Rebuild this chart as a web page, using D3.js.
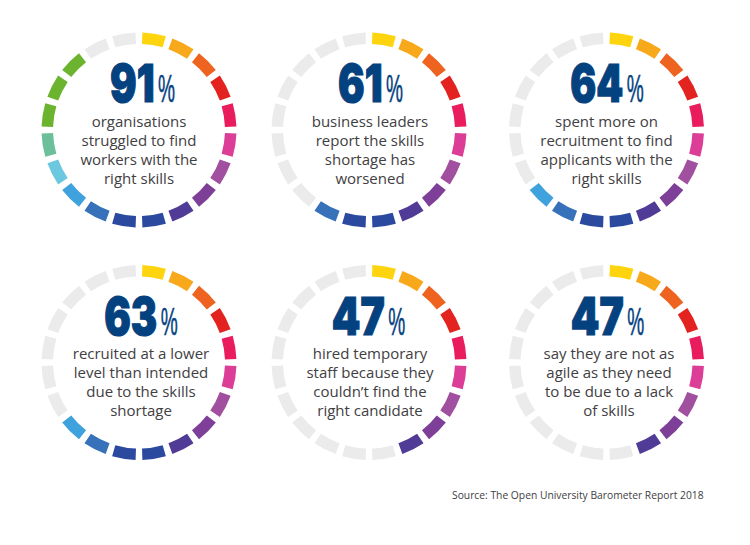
<!DOCTYPE html>
<html>
<head>
<meta charset="utf-8">
<script src="https://cdn.jsdelivr.net/npm/d3@7"></script>
<style>
  html, body { margin: 0; padding: 0; background: #fff; }
  svg { display: block; }
</style>
</head>
<body>
<svg id="chart"></svg>
<script>
const values = [91, 61, 64, 63, 47, 47];
// lit segments counted off the picture, they don't follow the % exactly
const litSegments = [18, 12, 13, 13, 9, 9];
const captions = [
  ["organisations", "struggled to find", "workers with the", "right skills"],
  ["business leaders", "report the skills", "shortage has", "worsened"],
  ["spent more on", "recruitment to find", "applicants with the", "right skills"],
  ["recruited at a lower", "level than intended", "due to the skills", "shortage"],
  ["hired temporary", "staff because they", "couldn\u2019t find the", "right candidate"],
  ["say they are not as", "agile as they need", "to be due to a lack", "of skills"]
];
const segmentColors = ["#fdd40e", "#f8a91b", "#ee6320", "#e2231f", "#e91c5e", "#dc3d96", "#a0509e",
  "#7e3f98", "#503c96", "#2c49a0", "#2c49a0", "#3671ba", "#3fa2dc", "#6cc8de", "#6cbf9b",
  "#6cb42f", "#6cb42f", "#6cb42f", "#ebebeb", "#ebebeb"];
const source = "Source: The Open University Barometer Report 2018";

const width = 750, height = 545;
const offColor = "#ebebeb", numColor = "#04417f";
const segmentCount = 20;
// the text isn't quite centred in the rings in the original
const numNudge = [3.5, 1.5, 0.5, 2, -0.5, 1];
const captionNudge = [0, 1, 0, 2, 1, 2.5];

const svg = d3.select("#chart").attr("width", width).attr("height", height);

const col = d3.scaleOrdinal().domain([0, 1, 2]).range([139, 369, 606.5]);
const row = d3.scaleOrdinal().domain([0, 1]).range([130, 362.5]);
const angle = d3.scaleLinear().domain([0, segmentCount]).range([0, 2 * Math.PI]);
const arc = d3.arc().innerRadius(86).outerRadius(97.5);
const segments = d3.range(segmentCount);

// squeeze a text sideways until it is w wide
function fitText(sel, x, y, w) {
  const natural = sel.node().getComputedTextLength();
  sel.attr("transform", "translate(" + x + "," + y + ") scale(" + (w / natural) + ",1)");
}

const cards = svg.selectAll("g.card")
  .data(values)
  .join("g")
  .attr("class", "card")
  .attr("transform", (d, i) => "translate(" + col(i % 3) + "," + row(Math.floor(i / 3)) + ")");

cards.each(function (v, i) {
  const g = d3.select(this);

  g.selectAll("path")
    .data(segments)
    .join("path")
    .attr("d", s => arc({ startAngle: angle(s) + 0.035, endAngle: angle(s + 1) - 0.035 }))
    .attr("fill", s => s < litSegments[i] ? segmentColors[s] : offColor);

  const numWidth = String(v)[1] === "1" ? 44.5 : 53;
  const pctWidth = 17, gap = 3.5;
  const left = numNudge[i] - (numWidth + gap + pctWidth) / 2;
  const baseline = i < 3 ? -28 : -27.5;

  // no Impact here, so a black weight squeezed to width
  const num = g.append("text")
    .attr("font-family", "Inter, Roboto, sans-serif")
    .attr("font-weight", 900)
    .attr("font-size", 52.5)
    .attr("fill", numColor)
    .attr("stroke", numColor)
    .attr("stroke-width", 1.2)
    .text(v);
  fitText(num, left, baseline - 0.4, numWidth);

  const pct = g.append("text")
    .attr("font-family", "'Liberation Sans Narrow', 'Liberation Sans', sans-serif")
    .attr("font-size", 38)
    .attr("fill", numColor)
    .attr("stroke", numColor)
    .attr("stroke-width", 0.5)
    .text("%");
  fitText(pct, left + numWidth + gap, baseline, pctWidth);

  g.append("g")
    .selectAll("text")
    .data(captions[i])
    .join("text")
    .attr("x", captionNudge[i])
    .attr("y", (d, k) => -3.5 + k * 19)
    .attr("text-anchor", "middle")
    .attr("font-family", "'Open Sans', sans-serif")
    .attr("font-size", 15)
    .attr("fill", "#414042")
    .text(d => d);
});

const sourceText = svg.append("text")
  .attr("font-family", "'Open Sans', sans-serif")
  .attr("font-size", 11)
  .attr("fill", "#414042")
  .text(source);
fitText(sourceText, 452, 499, 252);
</script>
</body>
</html>
